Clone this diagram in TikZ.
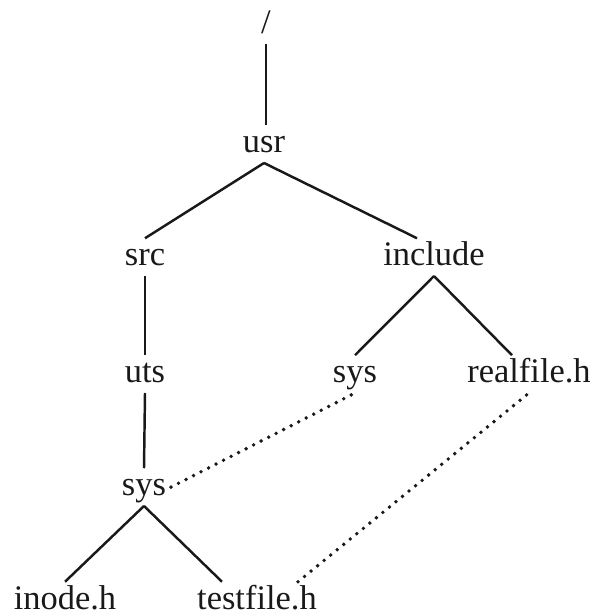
\documentclass[tikz,border=0pt]{standalone}
\usepackage{fontspec}
\setmainfont{Liberation Serif}
\definecolor{treeink}{RGB}{25, 25, 25}

\begin{document}
\begin{tikzpicture}[thick, font=\fontsize{19.6pt}{23pt}\selectfont,
    fnode/.style={anchor=base, inner sep=0pt, outer sep=0.1cm, text height=0.455cm, text depth=0.1cm, text=treeink},
    link/.style={treeink, line width=1.4pt},
    hardlink/.style={treeink, line width=2.2pt, line cap=round, dash pattern=on 0pt off 4.8pt}]

            \useasboundingbox (0,0) rectangle (11.86,12.32);

            \node[fnode] (nRoot) at (5.32, 11.64) {/};
            \node[fnode] (nUsr) at (5.28, 9.26) {usr};
            \node[fnode] (nSrc) at (2.90, 7.00) {src};
            \node[fnode] (nInclude) at (8.68, 7.00) {include};
            \node[fnode] (nUts) at (2.90, 4.66) {uts};
            \node[fnode] (nSysInc) at (7.10, 4.66) {sys};
            \node[fnode] (nRealfile) at (10.58, 4.66) {realfile.h};
            \node[fnode] (nSys) at (2.88, 2.40) {sys};
            \node[fnode] (nInode) at (1.30, 0.13) {inode.h};
            \node[fnode] (nTestfile) at (5.14, 0.13) {testfile.h};

            \draw[link] (nRoot.south) -- (nRoot.south |- nUsr.north);
            \draw[link] (nUsr.south) -- (nSrc.north);
            \draw[link] (nUsr.south) -- ([xshift=-0.34cm]nInclude.north);
            \draw[link] (nSrc.south) -- (nUts.north);
            \draw[link] (nInclude.south) -- (nSysInc.north);
            \draw[link] (nInclude.south) -- ([xshift=-0.34cm]nRealfile.north);
            \draw[link] (nUts.south) -- (nSys.north);
            \draw[link] (nSys.south) -- (nInode.north);
            \draw[link] (nSys.south) -- ([xshift=-0.7cm]nTestfile.north);

            \draw[hardlink] (nSys.east) -- (nSysInc.south);
            \draw[hardlink] ([xshift=0.82cm]nTestfile.north) -- (nRealfile.south);

        \end{tikzpicture}
\end{document}
